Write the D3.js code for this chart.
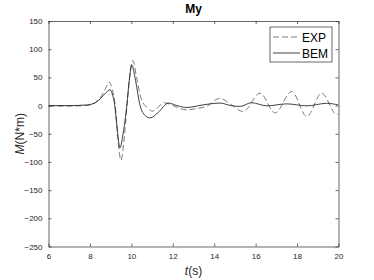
<!DOCTYPE html>
<html>
<head>
<meta charset="utf-8">
<script src="https://cdn.jsdelivr.net/npm/d3@7"></script>
<style>
  body { margin: 0; background: #fff; }
  svg { font-family: "Liberation Sans", Arial, sans-serif; }
</style>
</head>
<body>
<svg id="chart" width="374" height="280"></svg>
<script>
// values
const tBem = [6, 7, 7.8, 8.2, 8.5, 8.75, 8.97, 9.1, 9.2, 9.3, 9.45, 9.6, 9.78, 9.9, 10.02, 10.2, 10.42, 10.6, 10.9, 11.3, 11.79, 12.2, 12.67, 13.47, 14.28, 14.8, 15.25, 15.8, 16.54, 17.5, 18.47, 19.43, 20];
const yBem = [0, 0, 1, 4, 12, 22, 28, 18, 0, -35, -75, -50, 0, 45, 72, 45, 0, -15, -22, -12, 4.4, 0, -3.4, 1.3, 4.4, 0, -1.5, 5, -0.5, 3, -0.5, 4, 1];
const tExp = [6, 7, 7.8, 8.2, 8.5, 8.75, 8.92, 9.08, 9.22, 9.35, 9.5, 9.65, 9.8, 9.95, 10.07, 10.25, 10.45, 10.65, 10.82, 11.0, 11.6, 12.0, 12.67, 13.2, 13.6, 14.28, 14.8, 15.4, 16.21, 16.94, 17.74, 18.47, 19.19, 19.92, 20];
const yExp = [-1, -1, 0, 4, 14, 30, 42, 28, 0, -60, -97, -60, 5, 60, 80, 50, 15, 0, -5, -10, 5, 0, -7.5, -5, -2, 13, 2, -10.5, 22, -13, 25, -19.5, 22, -16, -14];
const xTicks = [6, 8, 10, 12, 14, 16, 18, 20];
const yTicks = [-250, -200, -150, -100, -50, 0, 50, 100, 150];
const seriesNames = ["EXP", "BEM"];

const svg = d3.select("#chart");
const mLeft = 48.5, mRight = 338.5, mTop = 21, mBottom = 246.5;
const x = d3.scaleLinear().domain([6, 20]).range([mLeft, mRight]);
const y = d3.scaleLinear().domain([-250, 150]).range([mBottom, mTop]);
const axisColor = "#262626";

svg.append("defs").append("clipPath").attr("id", "clip")
  .append("rect").attr("x", mLeft).attr("y", mTop).attr("width", mRight - mLeft).attr("height", mBottom - mTop);

const line = (ts, ys) => d3.line()
  .x((d, i) => x(ts[i]))
  .y((d) => y(d))
  .curve(d3.curveMonotoneX)(ys);

const plot = svg.append("g").attr("clip-path", "url(#clip)");
plot.append("path")
  .attr("d", line(tExp, yExp))
  .attr("fill", "none")
  .attr("stroke", "#7a7a7a")
  .attr("stroke-width", 1)
  .attr("stroke-dasharray", "6,3");
plot.append("path")
  .attr("d", line(tBem, yBem))
  .attr("fill", "none")
  .attr("stroke", "#111")
  .attr("stroke-width", 0.8);

// axes, MATLAB style box with inward ticks
const styleAxis = (g) => {
  g.select(".domain").attr("stroke", axisColor).attr("stroke-width", 0.7);
  g.selectAll(".tick line").attr("stroke", axisColor).attr("stroke-width", 0.7);
  g.selectAll(".tick text").attr("fill", axisColor).attr("font-size", 8);
};
svg.append("g").attr("transform", `translate(0,${mBottom})`)
  .call(d3.axisBottom(x).tickValues(xTicks).tickSizeInner(-3).tickSizeOuter(0).tickPadding(7))
  .call(styleAxis);
svg.append("g").attr("transform", `translate(0,${mTop})`)
  .call(d3.axisTop(x).tickValues(xTicks).tickSizeInner(-3).tickSizeOuter(0).tickFormat(""))
  .call(styleAxis);
svg.append("g").attr("transform", `translate(${mLeft},0)`)
  .call(d3.axisLeft(y).tickValues(yTicks).tickSizeInner(-3).tickSizeOuter(0).tickPadding(6))
  .call(styleAxis);
svg.append("g").attr("transform", `translate(${mRight},0)`)
  .call(d3.axisRight(y).tickValues(yTicks).tickSizeInner(-3).tickSizeOuter(0).tickFormat(""))
  .call(styleAxis);

// title and labels
svg.append("text").attr("x", (mLeft + mRight) / 2).attr("y", 13)
  .attr("text-anchor", "middle").attr("font-weight", "bold").attr("font-size", 12).text("My");
const xl = svg.append("text").attr("x", (mLeft + mRight) / 2).attr("y", 275)
  .attr("text-anchor", "middle").attr("font-size", 12).attr("fill", axisColor);
xl.append("tspan").attr("font-style", "italic").text("t");
xl.append("tspan").text("(s)");
const yl = svg.append("text")
  .attr("transform", `translate(24,${(mTop + mBottom) / 2}) rotate(-90)`)
  .attr("text-anchor", "middle").attr("font-size", 12).attr("fill", axisColor);
yl.append("tspan").attr("font-style", "italic").text("M");
yl.append("tspan").text("(N*m)");

// legend
const lg = svg.append("g").attr("transform", "translate(270,27)");
lg.append("rect").attr("width", 62).attr("height", 35)
  .attr("fill", "#fff").attr("stroke", axisColor).attr("stroke-width", 0.7);
seriesNames.forEach((name, i) => {
  const yy = 10 + i * 16;
  lg.append("line").attr("x1", 3).attr("x2", 30).attr("y1", yy).attr("y2", yy)
    .attr("stroke", i === 0 ? "#7a7a7a" : "#111").attr("stroke-width", i === 0 ? 1 : 0.8)
    .attr("stroke-dasharray", i === 0 ? "6,3" : null);
  lg.append("text").attr("x", 32).attr("y", yy + 4.5).attr("font-size", 12).text(name);
});
</script>
</body>
</html>
